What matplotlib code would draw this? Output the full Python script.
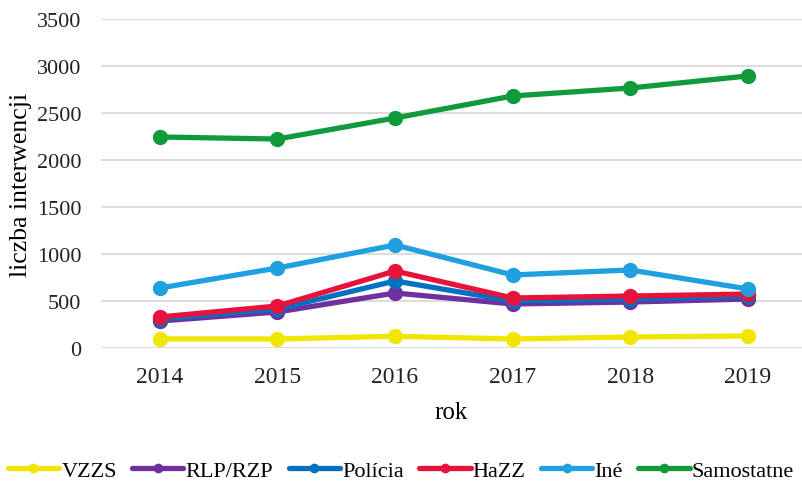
import numpy as np
import matplotlib.pyplot as plt

years = ['2014', '2015', '2016', '2017', '2018', '2019']
vzzs = [96, 96, 125, 96, 117, 128]
rlp_rzp = [287, 383, 585, 468, 489, 521]
policia = [309, 415, 713, 500, 521, 553]
hazz = [330, 447, 819, 532, 553, 574]
ine = [638, 851, 1096, 777, 830, 628]
samostatne = [2245, 2223, 2447, 2681, 2766, 2894]

names = ['VZZS', 'RLP/RZP', 'Polícia', 'HaZZ', 'Iné', 'Samostatne']
colors = ['#F2E500', '#7030A0', '#0070C0', '#E8133C', '#20A0DE', '#109A3C']
series = [vzzs, rlp_rzp, policia, hazz, ine, samostatne]

plt.rcParams['font.family'] = ['Liberation Serif', 'DejaVu Serif']

fig = plt.figure(figsize=(8.02, 4.85), dpi=100)
ax = fig.add_axes([101/802, 1 - 349/485, 701/802, 329/485])

x = np.arange(len(years))
for s, name, c in zip(series, names, colors):
    ax.plot(x, s, color=c, lw=3.8, marker='o', ms=10, label=name, solid_capstyle='round')

ax.set_ylim(0, 3500)
ax.set_yticks(np.arange(0, 3501, 500))
ax.set_xlim(-0.5, 5.46)
ax.set_xticks(x)
ax.set_xticklabels(years)
ax.grid(axis='y', color='#D9D9D9', lw=1.3)
ax.set_axisbelow(True)
for sp in ax.spines.values():
    sp.set_visible(False)
ax.tick_params(length=0, colors='#222222')
ax.tick_params(axis='x', pad=13, labelsize=17)
ax.tick_params(axis='y', pad=14, labelsize=16)
ax.set_xlabel('rok', fontsize=18, labelpad=10)
ax.set_ylabel('liczba interwencji', fontsize=18.5, labelpad=4)

fig.legend(loc='lower center', bbox_to_anchor=(0.5, -0.035), ncol=6, frameon=False,
           fontsize=16, handlelength=2.3, handletextpad=0.1, columnspacing=0.7,
           markerscale=0.6)

fig.savefig('out.png', dpi=100)
